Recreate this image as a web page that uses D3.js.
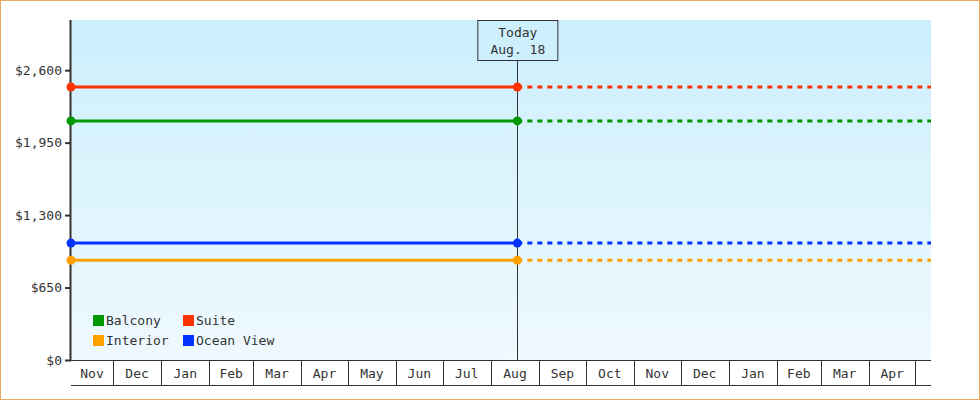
<!DOCTYPE html>
<html>
<head>
<meta charset="utf-8">
<script src="https://cdn.jsdelivr.net/npm/d3@7"></script>
<style>
  body { margin: 0; background: #fff; }
  svg { display: block; }
  text { font-family: "DejaVu Sans Mono", "Liberation Mono", monospace; font-size: 13px; fill: #333; }
</style>
</head>
<body>
<div id="graph"></div>
<script>
'use strict';

// data
var cabins = ["Balcony", "Suite", "Interior", "Ocean View"];
var prices = [2145, 2449, 895, 1049];
var cabinColors = ["#009900", "#ff3300", "#ffa000", "#0033ff"];
var priceTicks = [0, 650, 1300, 1950, 2600];
var startDate = new Date(2013, 10, 4);
var todayDate = new Date(2014, 7, 18);
var endDate = new Date(2015, 4, 11);
var todayLabel = ["Today", "Aug. 18"];

var w = 980;
var h = 400;
var plotLeft = 71, plotRight = 931, plotTop = 20, plotBottom = 360;

var svg = d3.select("#graph")
    .append("svg")
    .attr("width", w)
    .attr("height", h);

// background gradient
var grad = svg.append("defs").append("linearGradient")
    .attr("id", "bg")
    .attr("x1", 0).attr("y1", 0).attr("x2", 0).attr("y2", 1);
grad.append("stop").attr("offset", "0%").attr("stop-color", "#cbeffc");
grad.append("stop").attr("offset", "100%").attr("stop-color", "#eff9fe");

// outer frame
svg.append("rect")
    .attr("x", 0.5).attr("y", 0.5)
    .attr("width", w - 1).attr("height", h - 1)
    .attr("fill", "#fff")
    .attr("stroke", "#eaa862");

var x = d3.scaleTime().domain([startDate, endDate]).range([plotLeft, plotRight]);
var y = d3.scaleLinear().domain([0, 3050]).range([plotBottom, plotTop]);

svg.append("rect")
    .attr("x", plotLeft).attr("y", plotTop)
    .attr("width", plotRight - plotLeft).attr("height", plotBottom - plotTop)
    .attr("fill", "url(#bg)");

// y axis
var yAxis = d3.axisLeft(y)
    .tickValues(priceTicks)
    .tickSize(6)
    .tickPadding(3)
    .tickFormat(function(d) { return "$" + d3.format(",")(d); });

var yg = svg.append("g")
    .attr("transform", "translate(" + plotLeft + ",0)")
    .call(yAxis);
yg.select(".domain").remove();
yg.selectAll(".tick line").attr("stroke", "#333").attr("stroke-width", 2);
yg.selectAll(".tick text")
    .style("font-family", "DejaVu Sans Mono")
    .style("font-size", "13px")
    .attr("fill", "#333");
svg.append("line")
    .attr("x1", plotLeft - 0.5).attr("x2", plotLeft - 0.5)
    .attr("y1", plotTop).attr("y2", plotBottom + 1)
    .attr("stroke", "#333").attr("stroke-width", 2);

// x axis: month bands
var months = d3.timeMonth.range(d3.timeMonth.ceil(startDate), endDate);
var xg = svg.append("g");
xg.append("line")
    .attr("x1", plotLeft).attr("x2", plotRight)
    .attr("y1", plotBottom + 0.5).attr("y2", plotBottom + 0.5)
    .attr("stroke", "#333");
xg.append("line")
    .attr("x1", plotLeft).attr("x2", plotRight)
    .attr("y1", 385.5).attr("y2", 385.5)
    .attr("stroke", "#333");
xg.selectAll("line.sep")
    .data(months)
    .enter()
    .append("line")
    .attr("class", "sep")
    .attr("x1", function(d) { return Math.round(x(d)) + 0.5; })
    .attr("x2", function(d) { return Math.round(x(d)) + 0.5; })
    .attr("y1", plotBottom)
    .attr("y2", 385)
    .attr("stroke", "#333");

var bands = [startDate].concat(months).map(function(d) {
    var end = d3.timeMonth.offset(d3.timeMonth.floor(d), 1);
    if (end > endDate) end = endDate;
    return { label: d3.timeFormat("%b")(d), x0: x(d), x1: x(end) };
}).filter(function(b) { return b.x1 - b.x0 > 30; });

xg.selectAll("text")
    .data(bands)
    .enter()
    .append("text")
    .attr("x", function(d) { return (d.x0 + d.x1) / 2; })
    .attr("y", 378)
    .attr("text-anchor", "middle")
    .text(function(d) { return d.label; });

// today marker
var tx = x(todayDate);
svg.append("line")
    .attr("x1", Math.round(tx) + 0.5).attr("x2", Math.round(tx) + 0.5)
    .attr("y1", 60).attr("y2", plotBottom)
    .attr("stroke", "#333");

// price lines, solid up to today and dashed after
var lines = svg.append("g");
cabins.forEach(function(c, i) {
    var py = y(prices[i]);
    lines.append("line")
        .attr("x1", plotLeft).attr("x2", tx)
        .attr("y1", py).attr("y2", py)
        .attr("stroke", cabinColors[i])
        .attr("stroke-width", 3);
    lines.append("line")
        .attr("x1", tx).attr("x2", plotRight)
        .attr("y1", py).attr("y2", py)
        .attr("stroke", cabinColors[i])
        .attr("stroke-width", 3)
        .attr("stroke-dasharray", "5,5");
    lines.selectAll("circle.c" + i)
        .data([startDate, todayDate])
        .enter()
        .append("circle")
        .attr("class", "c" + i)
        .attr("cx", function(d) { return x(d); })
        .attr("cy", py)
        .attr("r", 4.5)
        .attr("fill", cabinColors[i]);
});

var box = svg.append("g");
box.append("rect")
    .attr("x", tx - 39.5).attr("y", 20.5)
    .attr("width", 80).attr("height", 40)
    .attr("fill", "#cdf0fc")
    .attr("stroke", "#333");
box.selectAll("text")
    .data(todayLabel)
    .enter()
    .append("text")
    .attr("x", tx + 0.5)
    .attr("y", function(d, i) { return 37 + i * 17; })
    .attr("text-anchor", "middle")
    .text(function(d) { return d; });

// legend
var legend = svg.append("g");
var item = legend.selectAll("g")
    .data(cabins)
    .enter()
    .append("g")
    .attr("transform", function(d, i) {
        return "translate(" + (93 + (i % 2) * 90) + "," + (315 + Math.floor(i / 2) * 20) + ")";
    });
item.append("rect")
    .attr("width", 11).attr("height", 11)
    .attr("fill", function(d, i) { return cabinColors[i]; });
item.append("text")
    .attr("x", 13)
    .attr("y", 10)
    .text(function(d) { return d; });
</script>
</body>
</html>
